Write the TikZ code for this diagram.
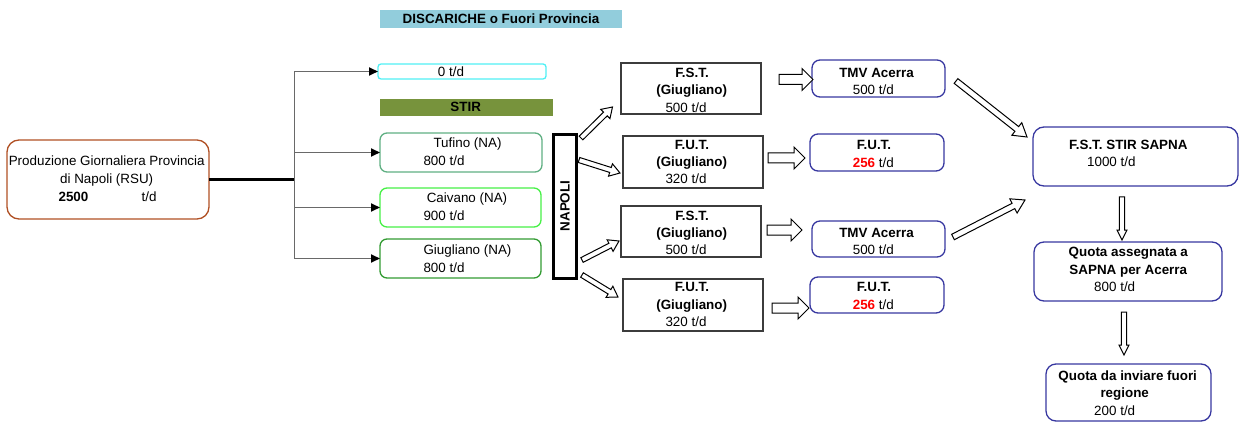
\documentclass[tikz,border=0pt]{standalone}
\usepackage{fontspec}
\setmainfont{Liberation Sans}
\usetikzlibrary{calc,arrows.meta}
\definecolor{prodc}{RGB}{176,80,36}
\definecolor{hdrc}{RGB}{146,205,220}
\definecolor{cyanc}{RGB}{80,240,245}
\definecolor{stirc}{RGB}{119,147,60}
\definecolor{tufc}{RGB}{95,175,130}
\definecolor{caic}{RGB}{70,240,70}
\definecolor{giuc}{RGB}{50,155,50}
\definecolor{bluec}{RGB}{55,55,160}
\definecolor{grayb}{RGB}{60,60,60}
\definecolor{linec}{RGB}{105,105,105}
\definecolor{redc}{RGB}{255,0,0}
\newcommand{\barrow}[5]{%
  \coordinate (bh) at ($(#5)!#3!(#4)$);
  \draw[blk] ($(#4)!#1!90:(#5)$) -- ($(bh)!#1!90:(#5)$) -- ($(bh)!#2!90:(#5)$) -- (#5)
    -- ($(bh)!#2!-90:(#5)$) -- ($(bh)!#1!-90:(#5)$) -- ($(#4)!#1!-90:(#5)$) -- cycle;
}
\begin{document}
\begin{tikzpicture}[x=1pt,y=-1pt,
  every node/.style={font=\fontsize{13.4}{16}\selectfont},
  tx/.style={anchor=base, inner sep=0pt, outer sep=0pt},
  bx/.style={inner sep=0pt, outer sep=0pt, line width=1.3pt},
  rbox/.style={bx, rounded corners=#1},
  blk/.style={draw=black, fill=white, line width=1pt, line join=miter},
  mainln/.style={line width=2.2pt, black},
  branch/.style={line width=1.8pt, linec, -{Triangle[length=9pt,width=8pt,color=black]}}]
\useasboundingbox (0,0) rectangle (1239,422);

% production
\node[rbox=12pt, draw=prodc, minimum width=202pt, minimum height=79pt] (prod) at (108,179.5) {};
\node[tx] (tp1) at (106.7,166) {Produzione Giornaliera Provincia};
\node[tx] (tp2) at (106.7,183.3) {di Napoli (RSU)};
\node[tx] (tp3) at (73.5,201.7) {\bfseries 2500};
\node[tx] (tp4) at (149,201.7) {t/d};

% headers
\node[bx, fill=hdrc, minimum width=242pt, minimum height=18pt] (hdr) at (501,19) {};
\node[tx] (thdr) at (501,24) {\bfseries DISCARICHE o Fuori Provincia};
\node[bx, fill=stirc, minimum width=173pt, minimum height=17pt] (stir) at (466.5,107.5) {};
\node[tx] (tstir) at (465.7,112) {\bfseries STIR};

% destination boxes
\node[rbox=3pt, draw=cyanc, minimum width=168pt, minimum height=15pt] (zero) at (462,71.5) {};
\node[tx] (tzero) at (451,77) {0 t/d};
\node[rbox=7pt, draw=tufc, minimum width=162pt, minimum height=39pt] (tuf) at (461,152.5) {};
\node[tx] (ttuf1) at (467.5,148) {Tufino (NA)};
\node[tx] (ttuf2) at (444,166) {800 t/d};
\node[rbox=7pt, draw=caic, minimum width=161pt, minimum height=39pt] (cai) at (460.5,207.5) {};
\node[tx] (tcai1) at (467,203) {Caivano (NA)};
\node[tx] (tcai2) at (444,220) {900 t/d};
\node[rbox=7pt, draw=giuc, minimum width=161pt, minimum height=39pt] (giu) at (460.5,258.5) {};
\node[tx] (tgiu1) at (467.5,254.5) {Giugliano (NA)};
\node[tx] (tgiu2) at (444,272.7) {800 t/d};

% connectors from production
\coordinate (split) at (294.5,179.5);
\draw[mainln] (prod.east) -- (split);
\draw[branch] (split) |- (zero.west);
\draw[branch] (split) |- (tuf.west);
\draw[branch] (split) |- (cai.west);
\draw[branch] (split) |- (giu.west);

% NAPOLI
\node[draw=black, line width=3pt, inner sep=0pt, minimum width=23pt, minimum height=143pt] (nap) at (564.5,206.5) {};
\node[rotate=90, inner sep=0pt] (tnap) at (565,206) {\bfseries NAPOLI};

% grey boxes
\node[bx, draw=grayb, minimum width=140pt, minimum height=51pt] (fst1) at (691,88.5) {};
\node[tx] (tf11) at (692,77.7) {\bfseries F.S.T.};
\node[tx] (tf12) at (691.7,95) {\bfseries (Giugliano)};
\node[tx] (tf13) at (686,112.3) {500 t/d};
\node[bx, draw=grayb, minimum width=140pt, minimum height=52pt] (fut1) at (693,162) {};
\node[tx] (tu11) at (692,150) {\bfseries F.U.T.};
\node[tx] (tu12) at (691.7,166.7) {\bfseries (Giugliano)};
\node[tx] (tu13) at (686,184) {320 t/d};
\node[bx, draw=grayb, minimum width=140pt, minimum height=51pt] (fst2) at (691,231.5) {};
\node[tx] (tf21) at (692,220) {\bfseries F.S.T.};
\node[tx] (tf22) at (691.7,237.7) {\bfseries (Giugliano)};
\node[tx] (tf23) at (686,254.7) {500 t/d};
\node[bx, draw=grayb, minimum width=140pt, minimum height=52pt] (fut2) at (693,305) {};
\node[tx] (tu21) at (692,291.7) {\bfseries F.U.T.};
\node[tx] (tu22) at (691.7,309) {\bfseries (Giugliano)};
\node[tx] (tu23) at (686,326.5) {320 t/d};

% blue boxes
\node[rbox=8pt, draw=bluec, minimum width=133pt, minimum height=37pt] (tmv1) at (878.5,78.5) {};
\node[tx] (tt11) at (876.5,77.7) {\bfseries TMV Acerra};
\node[tx] (tt12) at (873.3,94.3) {500 t/d};
\node[rbox=8pt, draw=bluec, minimum width=134pt, minimum height=37pt] (fb1) at (877,152.5) {};
\node[tx] (tb11) at (874,150) {\bfseries F.U.T.};
\node[tx] (tb12) at (873.3,167.3) {\textcolor{redc}{\bfseries 256} t/d};
\node[rbox=8pt, draw=bluec, minimum width=133pt, minimum height=36pt] (tmv2) at (878.5,239) {};
\node[tx] (tt21) at (876.5,237.3) {\bfseries TMV Acerra};
\node[tx] (tt22) at (873.3,254.7) {500 t/d};
\node[rbox=8pt, draw=bluec, minimum width=134pt, minimum height=36pt] (fb2) at (877,295) {};
\node[tx] (tb21) at (874,291.7) {\bfseries F.U.T.};
\node[tx] (tb22) at (873.3,309.3) {\textcolor{redc}{\bfseries 256} t/d};

% right column
\node[rbox=11pt, draw=bluec, minimum width=205pt, minimum height=59pt] (sapna) at (1135.5,156.5) {};
\node[tx] (ts1) at (1128.3,150) {\bfseries F.S.T. STIR SAPNA};
\node[tx] (ts2) at (1111.3,166.7) {1000 t/d};
\node[rbox=10pt, draw=bluec, minimum width=188pt, minimum height=59pt] (quota) at (1128,271.5) {};
\node[tx] (tq1) at (1128.3,256.7) {\bfseries Quota assegnata a};
\node[tx] (tq2) at (1128.3,274) {\bfseries SAPNA per Acerra};
\node[tx] (tq3) at (1114.7,291.7) {800 t/d};
\node[rbox=10pt, draw=bluec, minimum width=165pt, minimum height=57pt] (qda) at (1128.5,392.5) {};
\node[tx] (td1) at (1127.7,380) {\bfseries Quota da inviare fuori};
\node[tx] (td2) at (1124.7,397.3) {\bfseries regione};
\node[tx] (td3) at (1114.7,415) {200 t/d};

% block arrow end points
\coordinate (a1s) at (581,138);  \coordinate (a1e) at (612.5,107);
\coordinate (a2s) at (579,160);  \coordinate (a2e) at (620,173);
\coordinate (a3s) at (582,260);  \coordinate (a3e) at (619,241);
\coordinate (a4s) at (582,275);  \coordinate (a4e) at (618,297);
\coordinate (a5s) at (779,79.5);   \coordinate (a5e) at (813,79.5);
\coordinate (a6s) at (768,158);  \coordinate (a6e) at (805,158);
\coordinate (a7s) at (767,230);  \coordinate (a7e) at (802,230);
\coordinate (a8s) at (772,308);  \coordinate (a8e) at (809,308);
\coordinate (a9s) at (956,81);   \coordinate (a9e) at (1027,137);
\coordinate (a10s) at (953,237); \coordinate (a10e) at (1025,200);
\coordinate (a11s) at (1122,197); \coordinate (a11e) at (1122,240);
\coordinate (a12s) at (1124,312); \coordinate (a12e) at (1124,355);

\barrow{2.6pt}{6.5pt}{10pt}{a1s}{a1e}
\barrow{2.6pt}{6.5pt}{10pt}{a2s}{a2e}
\barrow{2.6pt}{6.5pt}{10pt}{a3s}{a3e}
\barrow{2.6pt}{6.5pt}{10pt}{a4s}{a4e}
\barrow{5pt}{11pt}{11pt}{a5s}{a5e}
\barrow{5pt}{11pt}{11pt}{a6s}{a6e}
\barrow{5pt}{11pt}{11pt}{a7s}{a7e}
\barrow{5pt}{11pt}{11pt}{a8s}{a8e}
\barrow{3pt}{8pt}{13pt}{a9s}{a9e}
\barrow{3pt}{8pt}{13pt}{a10s}{a10e}
\barrow{2.6pt}{5pt}{10pt}{a11s}{a11e}
\barrow{2.6pt}{5pt}{10pt}{a12s}{a12e}
\end{tikzpicture}
\end{document}
